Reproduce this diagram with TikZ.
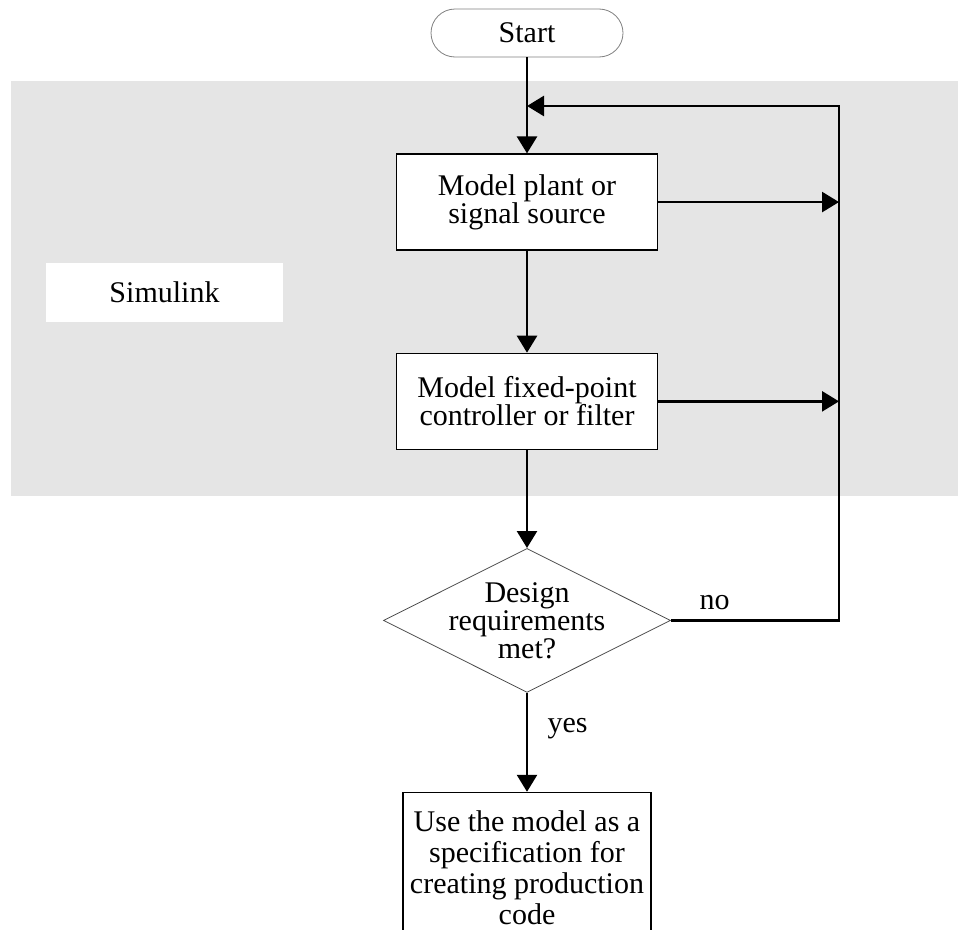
\documentclass[tikz,border=0pt]{standalone}
\usepackage{fontspec}
\setmainfont{Liberation Serif}
\usepackage{tikz}
\usetikzlibrary{arrows.meta, positioning, shapes.geometric}
\definecolor{simgray}{HTML}{E5E5E5}
\definecolor{rimgray}{HTML}{808080}

\begin{document}
\begin{tikzpicture}[
  x=1pt, y=1pt,
  font=\fontsize{30}{28}\selectfont,
  task/.style={rectangle, draw=black, line width=1.3pt, fill=white,
    minimum width=261pt, minimum height=96pt, align=center},
  terminal/.style={rectangle, rounded corners=24pt, draw=rimgray, line width=0.8pt,
    fill=white, minimum width=192pt, minimum height=48pt},
  decision/.style={diamond, draw=black!70, line width=0.8pt, fill=white,
    minimum width=287pt, minimum height=144pt, inner sep=0pt},
  link/.style={line width=2.6pt, -{Triangle[length=17pt, width=20pt]}},
]
  \clip (0,0) rectangle (958,-929);
  % shaded band and its label
  \fill[simgray] (11,-81) rectangle (958,-496);
  \node[fill=white, minimum width=237pt, minimum height=59pt] (simulink) at (164.5,-292.5) {Simulink};

  \node[terminal] (start) at (527,-33) {Start};
  \node[task, below=96pt of start] (plant) {Model plant or\\signal source};
  \node[task, below=102pt of plant] (ctrl) {Model fixed-point\\controller or filter};
  \node[decision, below=98pt of ctrl,
    label={[align=center]center:Design\\requirements\\met?}] (check) {};
  \node[task, minimum width=248pt, minimum height=150pt, font=\fontsize{30}{31}\selectfont,
    below=99pt of check] (spec) {Use the model as a\\specification for\\creating production\\code};

  % main flow
  \draw[link] (start) -- (plant);
  \draw[link] (plant) -- (ctrl);
  \draw[link] (ctrl) -- (check);
  \draw[link] (check) -- node[right, pos=.36, xshift=16pt] {yes} (spec);

  % way back to the top
  \coordinate (loop) at (839,-106);
  \draw[link] (plant.east) -- (plant.east -| loop);
  \draw[link] (ctrl.east) -- (ctrl.east -| loop);
  \draw[link] (check.east) -- node[above, pos=.26, yshift=6pt] {no} (check.east -| loop)
    -- (loop) -- (loop -| start);
\end{tikzpicture}
\end{document}
